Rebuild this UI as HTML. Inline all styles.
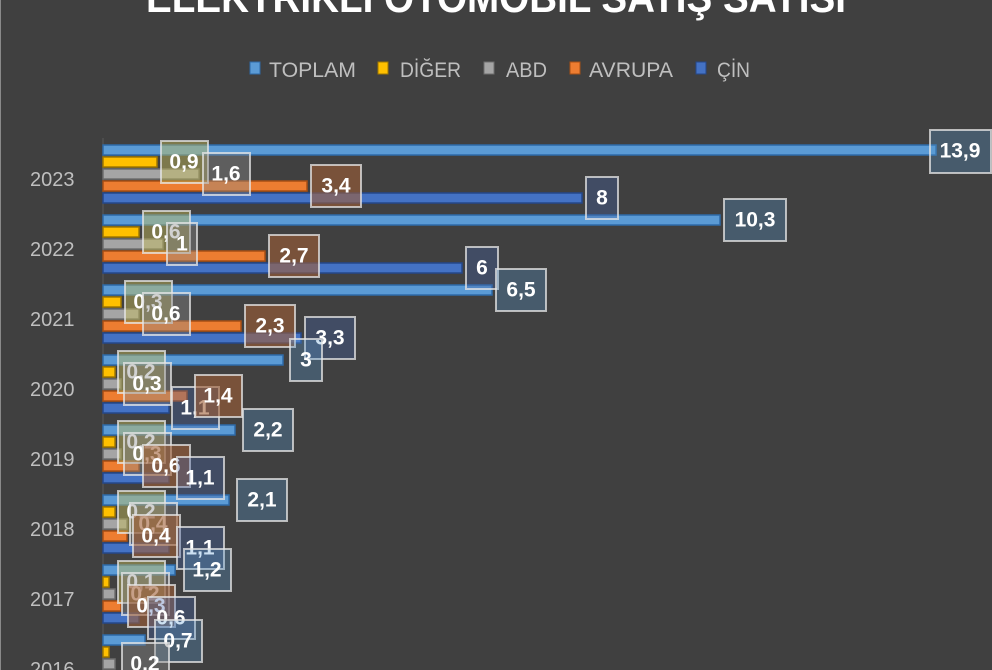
<!DOCTYPE html>
<html><head><meta charset="utf-8"><style>
html,body{margin:0;padding:0;background:#404040;}
svg{display:block;font-family:"Liberation Sans",sans-serif;}
.y{fill:#bfbfbf;font-size:20px;}
.l{fill:#fff;font-size:21px;font-weight:bold;text-anchor:middle;dominant-baseline:central;}
.bT{fill:#5B9BD5;stroke:#2e6aa8;stroke-width:1.5}
.bD{fill:#FFC000;stroke:#a07800;stroke-width:1.5}
.bA{fill:#A5A5A5;stroke:#6e6e6e;stroke-width:1.5}
.bE{fill:#ED7D31;stroke:#a84f14;stroke-width:1.5}
.bC{fill:#4472C4;stroke:#24478a;stroke-width:1.5}
.xT{fill:rgba(91,155,213,0.3);stroke:rgba(230,230,230,0.75);stroke-width:2}
.xD{fill:rgba(200,190,90,0.45);stroke:rgba(230,230,230,0.75);stroke-width:2}
.xA{fill:rgba(140,140,140,0.4);stroke:rgba(230,230,230,0.75);stroke-width:2}
.xE{fill:rgba(160,95,55,0.6);stroke:rgba(230,230,230,0.75);stroke-width:2}
.xC{fill:rgba(68,100,170,0.35);stroke:rgba(230,230,230,0.75);stroke-width:2}
</style></head><body>
<svg width="992" height="670" viewBox="0 0 992 670">
<rect x="0" y="0" width="992" height="670" fill="#404040"/>
<line x1="0.5" y1="0" x2="0.5" y2="670" stroke="#8a8a8a"/>
<text x="496" y="12" fill="#fff" font-size="42" font-weight="bold" text-anchor="middle" textLength="700" lengthAdjust="spacingAndGlyphs">ELEKTRİKLİ OTOMOBİL SATIŞ SAYISI</text>
<!-- legend -->
<g font-size="21" fill="#bfbfbf">
<rect x="250" y="62" width="10" height="12" fill="#5B9BD5" stroke="#2e6aa8"/>
<text x="269" y="77" textLength="87" lengthAdjust="spacingAndGlyphs">TOPLAM</text>
<rect x="378" y="62" width="10" height="12" fill="#FFC000" stroke="#a07800"/>
<text x="400" y="77" textLength="61" lengthAdjust="spacingAndGlyphs">DİĞER</text>
<rect x="484" y="62" width="10" height="12" fill="#A5A5A5" stroke="#6e6e6e"/>
<text x="506" y="77" textLength="41" lengthAdjust="spacingAndGlyphs">ABD</text>
<rect x="570" y="62" width="10" height="12" fill="#ED7D31" stroke="#a84f14"/>
<text x="589" y="77" textLength="84" lengthAdjust="spacingAndGlyphs">AVRUPA</text>
<rect x="696" y="62" width="10" height="12" fill="#4472C4" stroke="#24478a"/>
<text x="717" y="77" textLength="33" lengthAdjust="spacingAndGlyphs">ÇİN</text>
</g>
<line x1="103" y1="138" x2="103" y2="670" stroke="#5a5a5a"/>
<!-- years -->
<g class="y">
<text x="30" y="186">2023</text>
<text x="30" y="256">2022</text>
<text x="30" y="326">2021</text>
<text x="30" y="396">2020</text>
<text x="30" y="466">2019</text>
<text x="30" y="536">2018</text>
<text x="30" y="606">2017</text>
<text x="30" y="676">2016</text>
</g>
<!-- bars -->
<g>
<rect class="bT" x="103" y="145" width="833" height="10"/><rect class="bD" x="103" y="157" width="54" height="10"/><rect class="bA" x="103" y="169" width="96" height="10"/><rect class="bE" x="103" y="181" width="204" height="10"/><rect class="bC" x="103" y="193" width="479" height="10"/>
<rect class="bT" x="103" y="215" width="617" height="10"/><rect class="bD" x="103" y="227" width="36" height="10"/><rect class="bA" x="103" y="239" width="60" height="10"/><rect class="bE" x="103" y="251" width="162" height="10"/><rect class="bC" x="103" y="263" width="359" height="10"/>
<rect class="bT" x="103" y="285" width="389" height="10"/><rect class="bD" x="103" y="297" width="18" height="10"/><rect class="bA" x="103" y="309" width="36" height="10"/><rect class="bE" x="103" y="321" width="138" height="10"/><rect class="bC" x="103" y="333" width="198" height="10"/>
<rect class="bT" x="103" y="355" width="180" height="10"/><rect class="bD" x="103" y="367" width="12" height="10"/><rect class="bA" x="103" y="379" width="18" height="10"/><rect class="bE" x="103" y="391" width="84" height="10"/><rect class="bC" x="103" y="403" width="66" height="10"/>
<rect class="bT" x="103" y="425" width="132" height="10"/><rect class="bD" x="103" y="437" width="12" height="10"/><rect class="bA" x="103" y="449" width="18" height="10"/><rect class="bE" x="103" y="461" width="36" height="10"/><rect class="bC" x="103" y="473" width="66" height="10"/>
<rect class="bT" x="103" y="495" width="126" height="10"/><rect class="bD" x="103" y="507" width="12" height="10"/><rect class="bA" x="103" y="519" width="24" height="10"/><rect class="bE" x="103" y="531" width="24" height="10"/><rect class="bC" x="103" y="543" width="66" height="10"/>
<rect class="bT" x="103" y="565" width="72" height="10"/><rect class="bD" x="103" y="577" width="6" height="10"/><rect class="bA" x="103" y="589" width="12" height="10"/><rect class="bE" x="103" y="601" width="18" height="10"/><rect class="bC" x="103" y="613" width="36" height="10"/>
<rect class="bT" x="103" y="635" width="42" height="10"/><rect class="bD" x="103" y="647" width="6" height="10"/><rect class="bA" x="103" y="659" width="12" height="10"/>
</g>
<!-- labels -->
<g>
<rect class="xD" x="161" y="141" width="47" height="42"/><text class="l" x="184" y="162">0,9</text>
<rect class="xA" x="203" y="153" width="47" height="42"/><text class="l" x="226" y="174">1,6</text>
<rect class="xE" x="311" y="165" width="50" height="42"/><text class="l" x="336" y="186">3,4</text>
<rect class="xC" x="586" y="177" width="32" height="42"/><text class="l" x="602" y="198">8</text>
<rect class="xT" x="930" y="130" width="61" height="43"/><text class="l" x="960" y="151">13,9</text>

<rect class="xD" x="143" y="211" width="47" height="42"/><text class="l" x="166" y="232">0,6</text>
<rect class="xA" x="167" y="223" width="30" height="42"/><text class="l" x="182" y="244">1</text>
<rect class="xE" x="269" y="235" width="50" height="42"/><text class="l" x="294" y="256">2,7</text>
<rect class="xC" x="466" y="247" width="32" height="42"/><text class="l" x="482" y="268">6</text>
<rect class="xT" x="724" y="199" width="62" height="42"/><text class="l" x="755" y="220">10,3</text>

<rect class="xD" x="125" y="281" width="47" height="42"/><text class="l" x="148" y="302">0,3</text>
<rect class="xA" x="143" y="293" width="47" height="42"/><text class="l" x="166" y="314">0,6</text>
<rect class="xE" x="245" y="305" width="50" height="42"/><text class="l" x="270" y="326">2,3</text>
<rect class="xC" x="305" y="317" width="50" height="42"/><text class="l" x="330" y="338">3,3</text>
<rect class="xT" x="496" y="269" width="50" height="42"/><text class="l" x="521" y="290">6,5</text>

<rect class="xD" x="118" y="351" width="47" height="42"/><text class="l" x="141" y="372">0,2</text>
<rect class="xA" x="124" y="363" width="47" height="42"/><text class="l" x="147" y="384">0,3</text>
<rect class="xC" x="172" y="387" width="47" height="42"/><text class="l" x="195" y="408">1,1</text>
<rect class="xE" x="195" y="375" width="47" height="42"/><text class="l" x="218" y="396">1,4</text>
<rect class="xT" x="290" y="339" width="32" height="42"/><text class="l" x="306" y="360">3</text>

<rect class="xD" x="118" y="421" width="47" height="42"/><text class="l" x="141" y="442">0,2</text>
<rect class="xA" x="124" y="433" width="47" height="42"/><text class="l" x="147" y="454">0,3</text>
<rect class="xE" x="143" y="445" width="47" height="42"/><text class="l" x="166" y="466">0,6</text>
<rect class="xC" x="177" y="457" width="47" height="42"/><text class="l" x="200" y="478">1,1</text>
<rect class="xT" x="243" y="409" width="50" height="42"/><text class="l" x="268" y="430">2,2</text>

<rect class="xD" x="118" y="491" width="47" height="42"/><text class="l" x="141" y="512">0,2</text>
<rect class="xA" x="130" y="503" width="47" height="42"/><text class="l" x="153" y="524">0,4</text>
<rect class="xE" x="133" y="515" width="47" height="42"/><text class="l" x="156" y="536">0,4</text>
<rect class="xC" x="177" y="527" width="47" height="42"/><text class="l" x="200" y="548">1,1</text>
<rect class="xT" x="237" y="479" width="50" height="42"/><text class="l" x="262" y="500">2,1</text>

<rect class="xD" x="118" y="561" width="47" height="42"/><text class="l" x="141" y="582">0,1</text>
<rect class="xA" x="122" y="573" width="47" height="42"/><text class="l" x="145" y="594">0,2</text>
<rect class="xE" x="128" y="585" width="47" height="42"/><text class="l" x="151" y="606">0,3</text>
<rect class="xC" x="148" y="597" width="47" height="42"/><text class="l" x="171" y="618">0,6</text>
<rect class="xT" x="184" y="549" width="47" height="42"/><text class="l" x="207" y="570">1,2</text>

<rect class="xT" x="155" y="620" width="47" height="42"/><text class="l" x="178" y="641">0,7</text>
<rect class="xA" x="122" y="643" width="47" height="42"/><text class="l" x="145" y="664">0,2</text>
</g>
</svg>
</body></html>
